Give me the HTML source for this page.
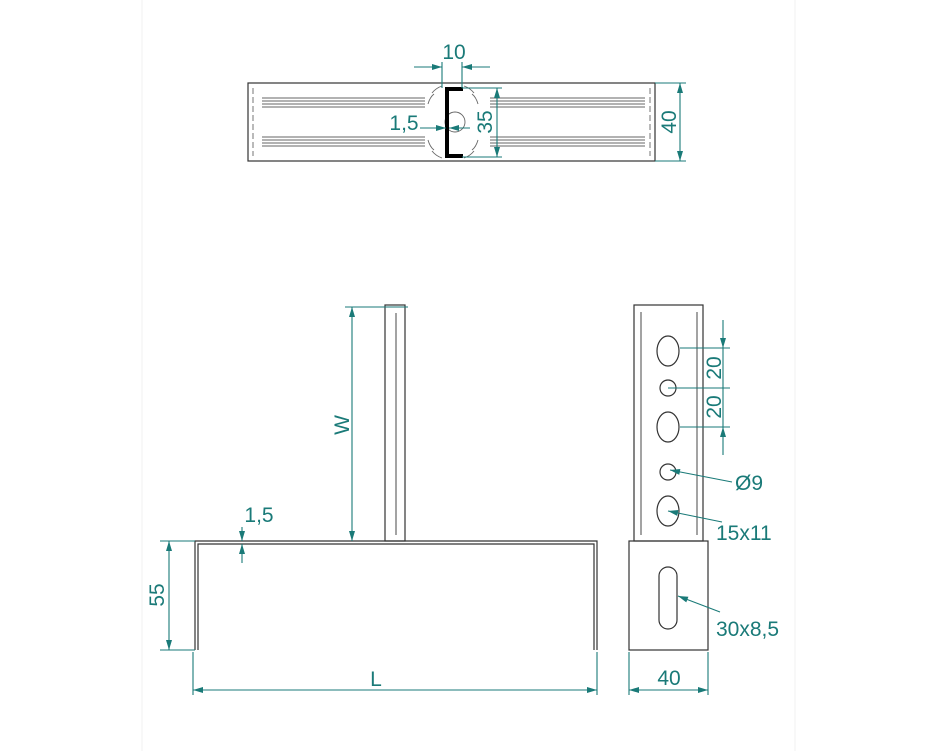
<!DOCTYPE html>
<html><head><meta charset="utf-8"><style>
html,body{margin:0;padding:0;background:#fff;width:937px;height:751px;overflow:hidden}
text{font-family:"Liberation Sans",sans-serif;fill:#1a7a78}
</style></head><body>
<svg width="937" height="751" viewBox="0 0 937 751" xmlns="http://www.w3.org/2000/svg">
<defs>
<marker id="a" viewBox="0 0 10 6" refX="10" refY="3" markerWidth="11" markerHeight="6" orient="auto-start-reverse" markerUnits="userSpaceOnUse"><path d="M0,0L10,3L0,6z" fill="#1a7a78"/></marker>
</defs>
<line x1="142" y1="0" x2="142" y2="751" stroke="#f0f0f0"/>
<line x1="795" y1="0" x2="795" y2="751" stroke="#f0f0f0"/>
<g fill="none" stroke="#333" stroke-width="1.2">
<rect x="248" y="83" width="407" height="78"/>
<g stroke="#666" stroke-width="0.9">
<path d="M262 98H425M262 101H425M262 104H425M262 107H425M490 98H645M490 101H645M490 104H645M490 107H645"/>
<path d="M262 137H425M262 140H425M262 143H425M262 146H425M490 137H645M490 140H645M490 143H645M490 146H645"/>
<path d="M253 88V156M650 88V156" stroke-dasharray="6 3"/>
<path d="M432 93Q436 88 442 86M428 104Q430 97 434 94M474 93Q470 88 464 86M478 104Q476 97 472 94M432 151Q436 156 442 158M428 140Q430 147 434 150M474 151Q470 156 464 158M478 140Q476 147 472 150"/>
<circle cx="455" cy="122" r="10"/>
</g>
<path d="M463 89H447V156H463" stroke="#000" stroke-width="4"/>
<rect x="385" y="305" width="20" height="236"/>
<line x1="396" y1="313" x2="396" y2="535" stroke="#666"/>
<path d="M195 650V541H597V650M198 650V544H594V650"/>
<rect x="634" y="305" width="69" height="236"/>
<path d="M641 312V535M697 312V535" stroke="#666"/>
<rect x="629" y="541" width="79" height="109"/>
<ellipse cx="668" cy="351" rx="11" ry="15"/>
<ellipse cx="668" cy="427" rx="11" ry="15"/>
<ellipse cx="668" cy="511" rx="11" ry="15"/>
<circle cx="668" cy="388" r="8"/>
<circle cx="668" cy="472" r="8"/>
<rect x="659" y="567" width="18" height="62" rx="9"/>
</g>
<g stroke="#1a7a78" stroke-width="1.1" fill="none">
<line x1="442" y1="62" x2="442" y2="88"/><line x1="462" y1="62" x2="462" y2="88"/>
<line x1="414" y1="67" x2="442" y2="67" marker-end="url(#a)"/><line x1="490" y1="67" x2="462" y2="67" marker-end="url(#a)"/>
<line x1="462" y1="88" x2="502" y2="88"/><line x1="462" y1="157" x2="502" y2="157"/>
<line x1="497" y1="88" x2="497" y2="157" marker-start="url(#a)" marker-end="url(#a)"/>
<line x1="655" y1="83" x2="686" y2="83"/><line x1="655" y1="161" x2="686" y2="161"/>
<line x1="680" y1="83" x2="680" y2="161" marker-start="url(#a)" marker-end="url(#a)"/>
<line x1="420" y1="128" x2="446" y2="128" marker-end="url(#a)"/>
<line x1="470" y1="128" x2="449" y2="128" marker-end="url(#a)"/>
<line x1="345" y1="307" x2="408" y2="307"/>
<line x1="352" y1="307" x2="352" y2="541" marker-start="url(#a)" marker-end="url(#a)"/>
<line x1="242" y1="527" x2="242" y2="541" marker-end="url(#a)"/>
<line x1="242" y1="563" x2="242" y2="544" marker-end="url(#a)"/>
<line x1="160" y1="541" x2="195" y2="541"/><line x1="160" y1="650" x2="195" y2="650"/>
<line x1="169" y1="541" x2="169" y2="650" marker-start="url(#a)" marker-end="url(#a)"/>
<line x1="193" y1="652" x2="193" y2="695"/><line x1="597" y1="652" x2="597" y2="695"/>
<line x1="193" y1="690" x2="597" y2="690" marker-start="url(#a)" marker-end="url(#a)"/>
<line x1="680" y1="348" x2="730" y2="348"/><line x1="668" y1="388" x2="730" y2="388"/><line x1="680" y1="427" x2="730" y2="427"/>
<line x1="723" y1="320" x2="723" y2="348" marker-end="url(#a)"/>
<line x1="723" y1="348" x2="723" y2="427"/>
<line x1="723" y1="455" x2="723" y2="427" marker-end="url(#a)"/>
<line x1="732" y1="482" x2="670" y2="470" marker-end="url(#a)"/>
<line x1="722" y1="522" x2="668" y2="511" marker-end="url(#a)"/>
<line x1="720" y1="612" x2="678" y2="596" marker-end="url(#a)"/>
<line x1="629" y1="652" x2="629" y2="695"/><line x1="708" y1="652" x2="708" y2="695"/>
<line x1="629" y1="690" x2="708" y2="690" marker-start="url(#a)" marker-end="url(#a)"/>
</g>
<g font-size="21">
<text x="454" y="59" text-anchor="middle">10</text>
<text x="404" y="130" text-anchor="middle">1,5</text>
<text transform="translate(492,122) rotate(-90)" text-anchor="middle">35</text>
<text transform="translate(676,122) rotate(-90)" text-anchor="middle">40</text>
<text transform="translate(349,425) rotate(-90)" text-anchor="middle">W</text>
<text x="259" y="522" text-anchor="middle">1,5</text>
<text transform="translate(164,595) rotate(-90)" text-anchor="middle">55</text>
<text x="376" y="686" text-anchor="middle">L</text>
<text transform="translate(721,368) rotate(-90)" text-anchor="middle">20</text>
<text transform="translate(721,407) rotate(-90)" text-anchor="middle">20</text>
<text x="735" y="490">Ø9</text>
<text x="716" y="540">15x11</text>
<text x="716" y="636">30x8,5</text>
<text x="669" y="685" text-anchor="middle">40</text>
</g>
</svg>
</body></html>
